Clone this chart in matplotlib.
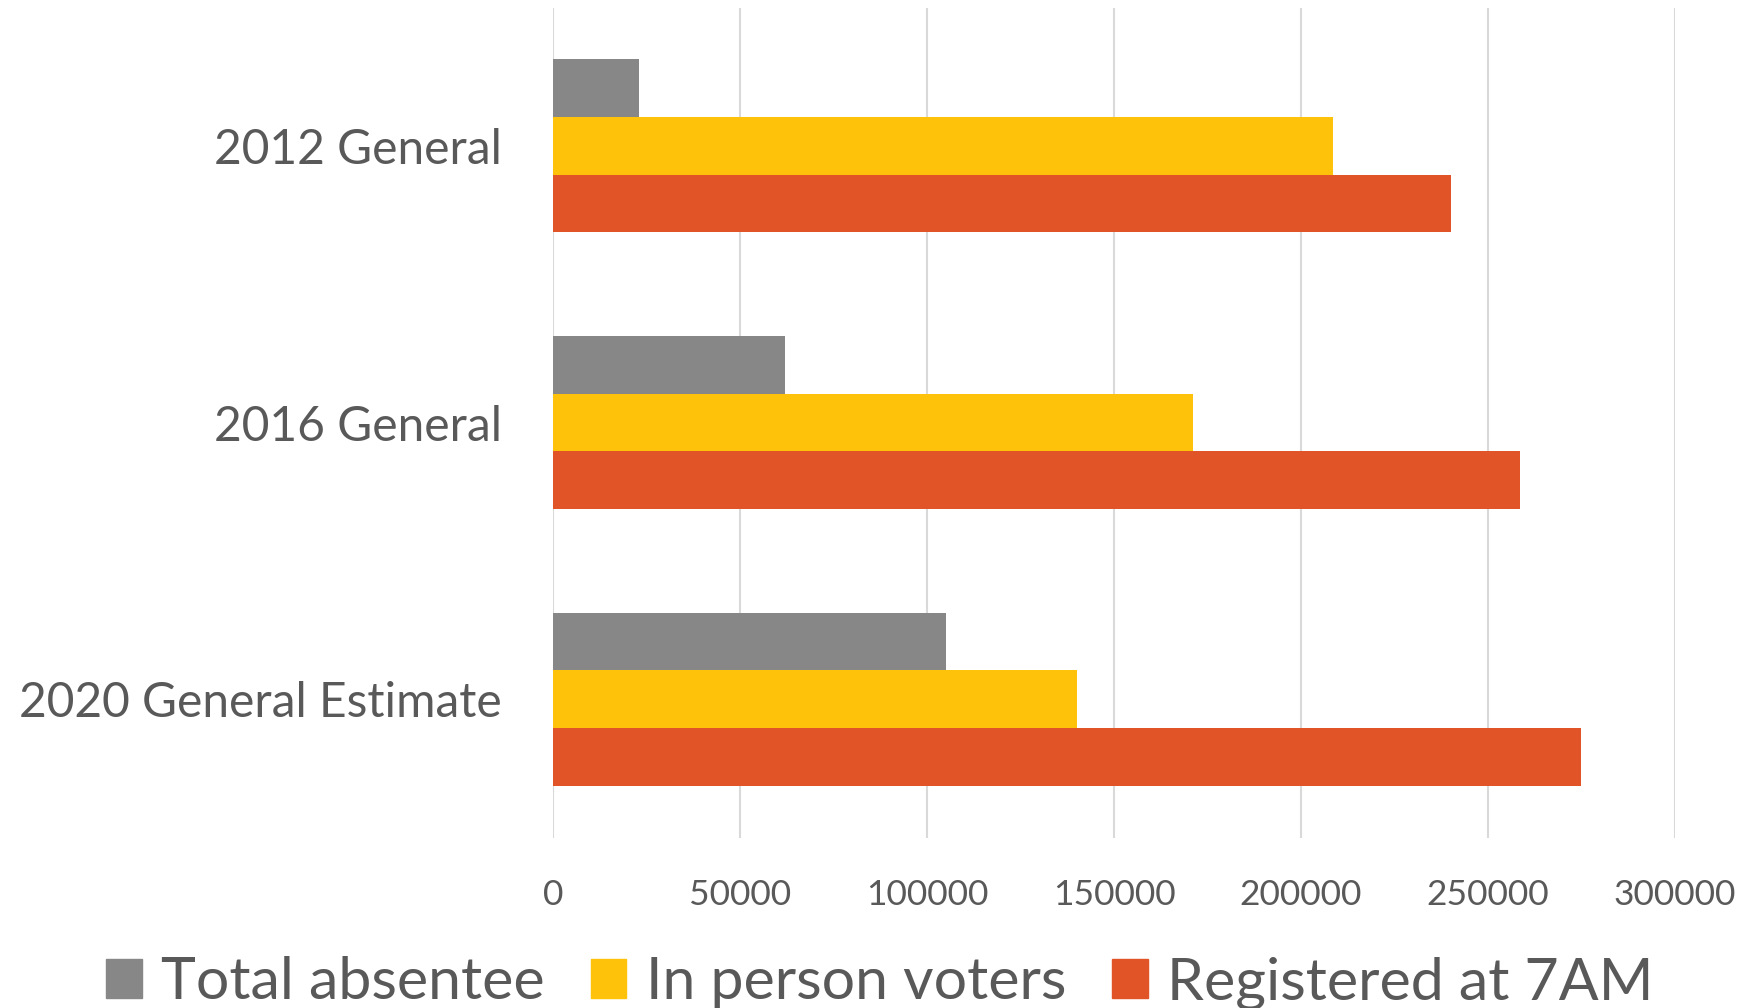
import matplotlib.pyplot as plt
from matplotlib.patches import Patch

categories = ['2012 General', '2016 General', '2020 General Estimate']
series_names = ['Total absentee', 'In person voters', 'Registered at 7AM']
total_absentee = [23000, 62000, 105000]
in_person = [208500, 171000, 140000]
registered_7am = [240000, 258500, 275000]
x_ticks = [0, 50000, 100000, 150000, 200000, 250000, 300000]

colors = ['#878787', '#FFC20A', '#E15427']
text_color = '#595959'

plt.rcParams['font.family'] = ['Lato', 'DejaVu Sans']

fig = plt.figure(figsize=(17.6, 10.08), dpi=100)
ax = fig.add_axes([0.3142, 0.169, 0.6375, 0.8235])

bar_h = 0.625 / 3
values = [total_absentee, in_person, registered_7am]
for k, (vals, col) in enumerate(zip(values, colors)):
    pos = [i + (k - 1) * bar_h for i in range(len(categories))]
    ax.barh(pos, vals, height=bar_h, color=col, zorder=3)

ax.set_ylim(len(categories) - 0.5, -0.5)
ax.set_xlim(0, 300000)
ax.set_yticks(range(len(categories)))
ax.set_yticklabels(categories, fontsize=34.5, color=text_color)
ax.set_xticks(x_ticks)
ax.set_xticklabels([str(t) for t in x_ticks], fontsize=25.5, color=text_color)
ax.tick_params(axis='y', length=0, pad=37)
ax.tick_params(axis='x', length=0, pad=30)
ax.grid(axis='x', color='#D9D9D9', linewidth=1.5, zorder=0)
for s in ax.spines.values():
    s.set_visible(False)

handles = [Patch(color=c, label=n) for c, n in zip(colors, series_names)]
leg = fig.legend(handles=handles, loc='center', bbox_to_anchor=(0.5, 0.025), ncol=3,
                 frameon=False, fontsize=42.5, handlelength=0.6, handleheight=0.65,
                 handletextpad=0.33, columnspacing=0.78, borderaxespad=0)
for t in leg.get_texts():
    t.set_color(text_color)

fig.savefig('out.png', dpi=100)
